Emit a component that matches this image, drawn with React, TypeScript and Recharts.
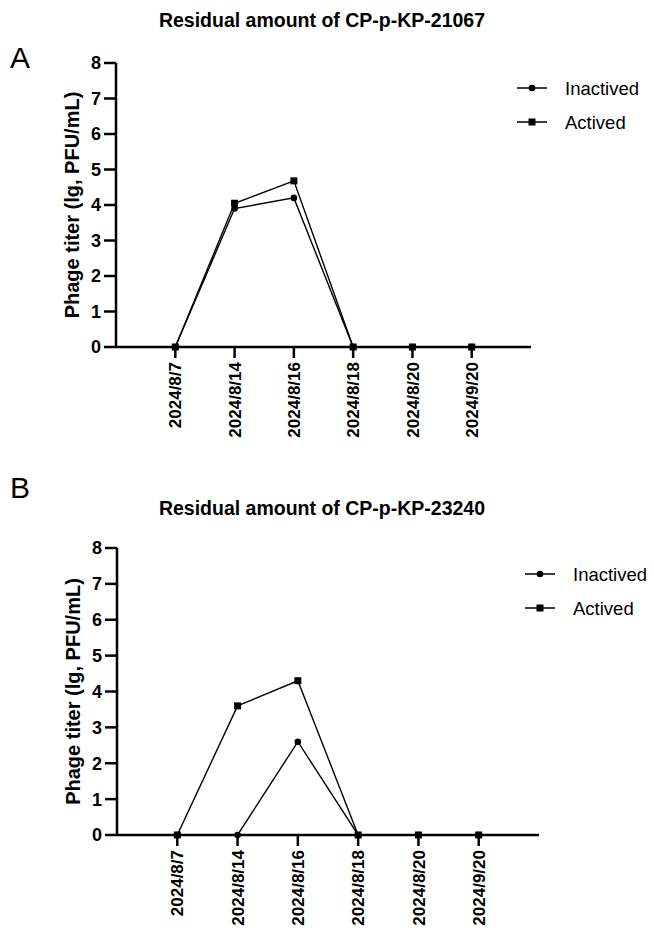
import React from 'react';
import { LineChart, Line, XAxis, YAxis, Legend } from 'recharts';

const FONT = '"Liberation Sans", Arial, Helvetica, sans-serif';

const dates = ['2024/8/7', '2024/8/14', '2024/8/16', '2024/8/18', '2024/8/20', '2024/9/20'];
const xIndex = [1, 2, 3, 4, 5, 6];
const yTicks = [0, 1, 2, 3, 4, 5, 6, 7, 8];
const seriesNames = ['Inactived', 'Actived'];

const inactivedA = [0, 3.9, 4.2, 0, 0, 0];
const activedA = [0, 4.05, 4.68, 0, 0, 0];
const inactivedB = [0, 0, 2.6, 0, 0, 0];
const activedB = [0, 3.6, 4.3, 0, 0, 0];

const titles = ['Residual amount of CP-p-KP-21067', 'Residual amount of CP-p-KP-23240'];
const panelLetters = ['A', 'B'];
const yLabel = 'Phage titer (lg, PFU/mL)';

function buildData(inact: number[], act: number[]) {
  return xIndex.map((x, i) => ({ x, Inactived: inact[i], Actived: act[i] }));
}

const dataA = buildData(inactivedA, activedA);
const dataB = buildData(inactivedB, activedB);

const XTick = (props: any) => {
  const { x, y, payload } = props;
  return (
    <g transform={`translate(${x},${y})`}>
      <text
        x={0}
        y={0}
        transform="rotate(-90)"
        textAnchor="end"
        dy="0.36em"
        fontFamily={FONT}
        fontSize={17}
        fontWeight="bold"
        fill="#000"
      >
        {dates[payload.value - 1]}
      </text>
    </g>
  );
};

const circleDot = (props: any) => {
  const { cx, cy, index } = props;
  return <circle key={`c${index}`} cx={cx} cy={cy} r={3.3} fill="#000" stroke="none" />;
};

const squareDot = (props: any) => {
  const { cx, cy, index } = props;
  return <rect key={`s${index}`} x={cx - 3.5} y={cy - 3.5} width={7} height={7} fill="#000" stroke="none" />;
};

const YLabelContent = (props: any) => {
  const vb = props.viewBox || {};
  const cx = vb.x + 16;
  const cy = vb.y + vb.height / 2;
  return (
    <text
      x={cx}
      y={cy}
      transform={`rotate(-90, ${cx}, ${cy})`}
      textAnchor="middle"
      dy="0.36em"
      fontFamily={FONT}
      fontSize={20}
      fontWeight="bold"
      fill="#000"
    >
      {yLabel}
    </text>
  );
};

const LegendContent = () => (
  <svg width={150} height={70} style={{ overflow: 'visible' }}>
    {seriesNames.map((name, i) => {
      const y = 17 + i * 34;
      return (
        <g key={name}>
          <line x1={2} x2={32} y1={y} y2={y} stroke="#000" strokeWidth={1.5} />
          {i === 0 ? (
            <circle cx={17} cy={y} r={3.3} fill="#000" />
          ) : (
            <rect x={13.5} y={y - 3.5} width={7} height={7} fill="#000" />
          )}
          <text x={50} y={y} dy="0.36em" fontFamily={FONT} fontSize={18.5} fill="#000">
            {name}
          </text>
        </g>
      );
    })}
  </svg>
);

type PanelProps = {
  data: any[];
  top: number;
  height: number;
  margin: { top: number; left: number; right: number; bottom: number };
  legendPos: { left: number; top: number };
};

const Panel = ({ data, top, height, margin, legendPos }: PanelProps) => (
  <div style={{ position: 'absolute', left: 0, top, width: 654, height }}>
    <LineChart width={654} height={height} data={data} margin={margin}>
      <XAxis
        dataKey="x"
        type="number"
        domain={[0, 7]}
        ticks={xIndex}
        allowDecimals={false}
        height={100}
        axisLine={{ stroke: '#000', strokeWidth: 2.5 }}
        tickLine={{ stroke: '#000', strokeWidth: 2.5 }}
        tickSize={11}
        tickMargin={4}
        tick={<XTick />}
        interval={0}
      />
      <YAxis
        type="number"
        domain={[0, 8]}
        ticks={yTicks}
        width={60}
        interval={0}
        axisLine={{ stroke: '#000', strokeWidth: 2.5 }}
        tickLine={{ stroke: '#000', strokeWidth: 2.5 }}
        tickSize={12}
        tickMargin={3}
        tick={{ fontSize: 18, fontWeight: 700, fill: '#000', fontFamily: FONT }}
        label={<YLabelContent />}
      />
      <Legend
        layout="horizontal"
        verticalAlign="middle"
        align="center"
        content={<LegendContent />}
        wrapperStyle={{ position: 'absolute', left: legendPos.left, top: legendPos.top, width: 150, height: 70 }}
      />
      <Line
        dataKey="Inactived"
        stroke="#000"
        strokeWidth={1.4}
        dot={circleDot}
        activeDot={false}
        isAnimationActive={false}
        type="linear"
      />
      <Line
        dataKey="Actived"
        stroke="#000"
        strokeWidth={1.4}
        dot={squareDot}
        activeDot={false}
        isAnimationActive={false}
        type="linear"
      />
    </LineChart>
  </div>
);

export default function App() {
  return (
    <div
      style={{
        position: 'absolute',
        left: 0,
        top: 0,
        width: 654,
        height: 936,
        background: '#fff',
        overflow: 'hidden',
      }}
    >
      <Panel
        data={dataA}
        top={0}
        height={470}
        margin={{ top: 63, left: 56, right: 123, bottom: 23 }}
        legendPos={{ left: 515, top: 71 }}
      />
      <Panel
        data={dataB}
        top={470}
        height={466}
        margin={{ top: 78, left: 57, right: 115, bottom: 1 }}
        legendPos={{ left: 523, top: 87 }}
      />
      <svg
        width={654}
        height={936}
        style={{ position: 'absolute', left: 0, top: 0, pointerEvents: 'none' }}
      >
        <text x={10} y={68} fontFamily={FONT} fontSize={30} fill="#000">
          {panelLetters[0]}
        </text>
        <text x={10} y={498} fontFamily={FONT} fontSize={30} fill="#000">
          {panelLetters[1]}
        </text>
        <text x={322} y={27} textAnchor="middle" fontFamily={FONT} fontSize={19.5} fontWeight="bold" fill="#000">
          {titles[0]}
        </text>
        <text x={322} y={515} textAnchor="middle" fontFamily={FONT} fontSize={19.5} fontWeight="bold" fill="#000">
          {titles[1]}
        </text>
      </svg>
    </div>
  );
}
